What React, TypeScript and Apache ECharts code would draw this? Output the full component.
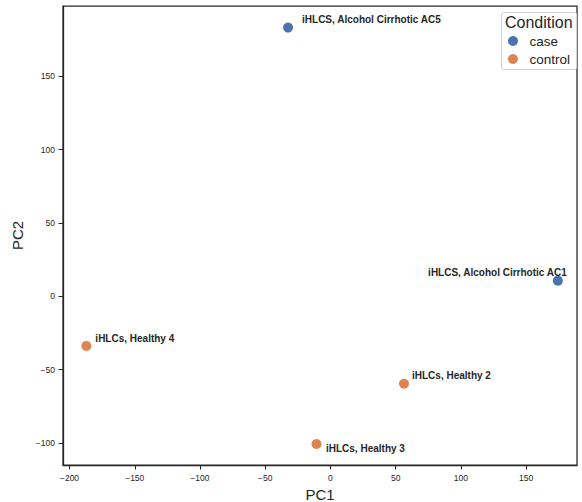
import React, { useEffect, useRef } from "react";
import * as echarts from "echarts";

const sampleNames = [
  "iHLCS, Alcohol Cirrhotic AC5",
  "iHLCS, Alcohol Cirrhotic AC1",
  "iHLCs, Healthy 4",
  "iHLCs, Healthy 2",
  "iHLCs, Healthy 3",
];
const conditions = ["case", "case", "control", "control", "control"];
const pc1Values = [-32.5, 174.3, -187.1, 56.4, -10.7];
const pc2Values = [183.3, 10.7, -33.8, -59.6, -100.7];
const conditionLevels = ["case", "control"];
const xTicks = [-200, -150, -100, -50, 0, 50, 100, 150];
const yTicks = [-100, -50, 0, 50, 100, 150];

// styling (label placement relative to each point)
const labelPlacement: { side: string; dx: number; dy: number }[] = [
  { side: "right", dx: 9, dy: -8 },
  { side: "left", dx: 14, dy: -8 },
  { side: "right", dx: 4, dy: -7 },
  { side: "right", dx: 3, dy: -8 },
  { side: "right", dx: 4.5, dy: 4 },
];
const colors: Record<string, string> = { case: "#4c72b0", control: "#dd8452" };
const ink = "#262626";
const font = "'Liberation Sans', Arial, sans-serif";

const fmt = (v: number) => (v < 0 ? "\u2212" + Math.abs(v) : String(v));

export default function App() {
  const ref = useRef<HTMLDivElement>(null);
  useEffect(() => {
    if (!ref.current) return;
    const chart = echarts.init(ref.current, undefined, { renderer: "svg" });
    const series = conditionLevels.map((cond) => ({
      name: cond,
      type: "scatter",
      symbol: "circle",
      symbolSize: 10,
      itemStyle: { color: colors[cond], opacity: 1 },
      data: sampleNames
        .map((name, i) => ({ name, i }))
        .filter((d) => conditions[d.i] === cond)
        .map((d) => {
          const p = labelPlacement[d.i];
          return {
            name: d.name,
            value: [pc1Values[d.i], pc2Values[d.i]],
            label: {
              show: true,
              formatter: "{b}",
              position: p.side,
              distance: 0,
              offset: [p.dx, p.dy],
              fontFamily: font,
              fontSize: 10,
              fontWeight: "bold",
              color: ink,
            },
          };
        }),
    }));
    const axisCommon = {
      axisLine: { show: true, onZero: false, lineStyle: { color: ink, width: 1.25 } },
      splitLine: { show: false },
      nameTextStyle: { fontFamily: font, fontSize: 15, color: ink },
    };
    chart.setOption({
      animation: false,
      backgroundColor: "#ffffff",
      textStyle: { fontFamily: font },
      grid: {
        left: 63,
        right: 5,
        top: 6,
        bottom: 37,
        show: true,
        borderColor: ink,
        borderWidth: 1.25,
        containLabel: false,
        outerBoundsMode: "none",
      },
      xAxis: {
        type: "value",
        min: -205,
        max: 189,
        name: "PC1",
        nameLocation: "middle",
        nameGap: 20.5,
        ...axisCommon,
        axisTick: { show: true, length: 4.5, customValues: xTicks, lineStyle: { color: ink, width: 1 } },
        axisLabel: { customValues: xTicks, formatter: fmt, fontSize: 8.5, color: ink, margin: 8, fontFamily: font },
      },
      yAxis: {
        type: "value",
        min: -115,
        max: 198,
        name: "PC2",
        nameLocation: "middle",
        nameGap: 28,
        ...axisCommon,
        axisTick: { show: true, length: 4.5, customValues: yTicks, lineStyle: { color: ink, width: 1 } },
        axisLabel: { customValues: yTicks, formatter: fmt, fontSize: 8.5, color: ink, margin: 8, fontFamily: font },
      },
      legend: {
        data: conditionLevels,
        orient: "vertical",
        left: 503,
        top: 29,
        icon: "circle",
        itemWidth: 23,
        itemHeight: 10,
        itemGap: 4,
        textStyle: { fontFamily: font, fontSize: 13.5, color: ink, lineHeight: 14 },
        z: 5,
      },
      graphic: [
        {
          type: "rect",
          z: 3,
          shape: { x: 501.5, y: 12.5, width: 75, height: 57, r: 2 },
          style: { fill: "#ffffff", stroke: "#d0d0d0", lineWidth: 1 },
        },
        {
          type: "text",
          z: 5,
          x: 505,
          y: 22.5,
          style: {
            text: "Condition",
            fontFamily: font,
            fontSize: 16,
            fill: ink,
            verticalAlign: "middle",
            align: "left",
          },
        },
      ],
      series,
    });
    return () => chart.dispose();
  }, []);
  return (
    <div
      ref={ref}
      style={{ position: "fixed", left: 0, top: 0, width: 582, height: 502 }}
    />
  );
}
